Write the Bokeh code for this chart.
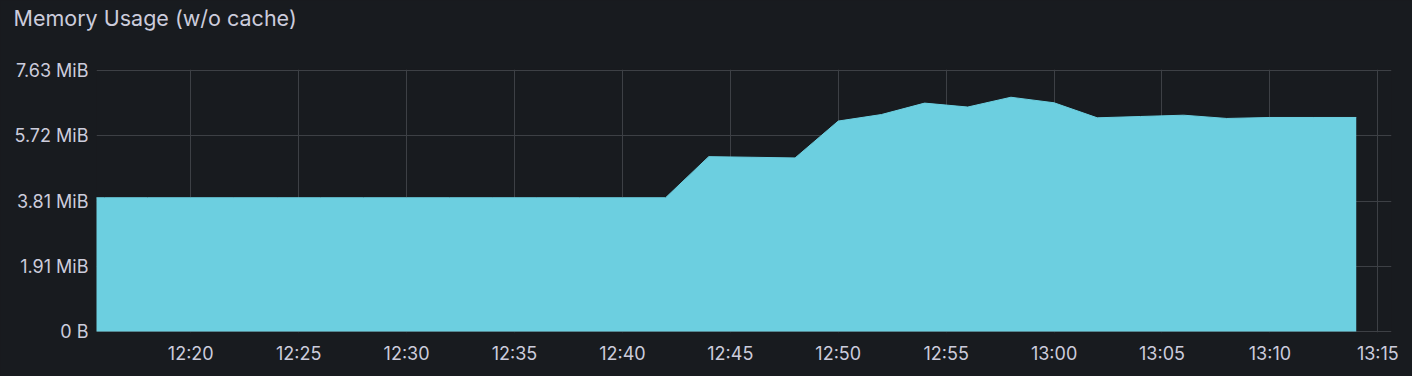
from datetime import datetime, timedelta
from bokeh.plotting import figure
from bokeh.models import Range1d, FixedTicker, DatetimeTickFormatter, Title, ColumnDataSource
from bokeh.embed import file_html
from bokeh.resources import INLINE

# ---- data ----
start = datetime(2024, 1, 1, 12, 14)
times = [start + timedelta(minutes=2 * i) for i in range(31)]
memory_bytes = [
    4.10e6, 4.10e6, 4.10e6, 4.10e6, 4.10e6, 4.10e6, 4.10e6, 4.10e6,
    4.10e6, 4.10e6, 4.10e6, 4.10e6, 4.10e6, 4.10e6, 4.10e6,
    5.36e6, 5.34e6, 5.32e6, 6.45e6, 6.65e6, 7.00e6, 6.88e6, 7.18e6,
    7.01e6, 6.55e6, 6.59e6, 6.63e6, 6.53e6, 6.56e6, 6.56e6, 6.56e6,
]
y_ticks = [0, 2000000, 4000000, 6000000, 8000000]
y_tick_labels = ["0 B", "1.91 MiB", "3.81 MiB", "5.72 MiB", "7.63 MiB"]
x_tick_times = [datetime(2024, 1, 1, 12, 20) + timedelta(minutes=5 * i) for i in range(12)]
title_text = "Memory Usage (w/o cache)"

BG = "#181b1f"
TXT = "#ccccdc"
GRID = "#3d4045"
FILL = "#6ccfe0"

def ms(d):
    return (d - datetime(1970, 1, 1)).total_seconds() * 1000.0

src = ColumnDataSource(dict(t=[ms(t) for t in times], v=memory_bytes))

x0 = ms(datetime(2024, 1, 1, 12, 15, 38))
x1 = ms(datetime(2024, 1, 1, 13, 15, 38))
pad = 30500  # half-pixel-ish padding so edge grid lines are not clipped

p = figure(width=1412, height=376, output_backend="svg", toolbar_location=None,
           x_axis_type="datetime",
           x_range=Range1d(x0, x1), y_range=Range1d(-pad, 8000000 + pad),
           min_border_left=96, min_border_right=21, min_border_top=69, min_border_bottom=44)
p.background_fill_color = BG
p.border_fill_color = BG
p.outline_line_color = None
p.styles = {"background-color": BG}

p.varea(x="t", y1=0, y2="v", source=src, fill_color=FILL, fill_alpha=1.0)
p.line(x="t", y="v", source=src, line_color=FILL, line_width=1)

p.xaxis.ticker = FixedTicker(ticks=[ms(t) for t in x_tick_times])
p.xaxis.formatter = DatetimeTickFormatter(minutes="%H:%M", hours="%H:%M", minsec="%H:%M", seconds="%H:%M")
p.yaxis.ticker = FixedTicker(ticks=y_ticks)
p.yaxis.major_label_overrides = {t: l for t, l in zip(y_ticks, y_tick_labels)}

for ax in (p.xaxis[0], p.yaxis[0]):
    ax.axis_line_color = None
    ax.major_tick_line_color = None
    ax.minor_tick_line_color = None
    ax.major_tick_out = 0
    ax.major_tick_in = 0
    ax.major_label_text_color = TXT
    ax.major_label_text_font = "Inter"
    ax.major_label_text_font_size = "18px"
p.xaxis.major_label_standoff = 10
p.yaxis.major_label_standoff = 8

p.xgrid.ticker = p.xaxis[0].ticker
p.ygrid.ticker = p.yaxis[0].ticker
p.xgrid.grid_line_color = GRID
p.ygrid.grid_line_color = GRID

# spacer between title and frame
spacer = Title(text=" ", standoff=36, text_font_size="1px", text_color=BG)
p.add_layout(spacer, "above")
t = Title(text=title_text, align="left", offset=-83, standoff=0, vertical_align="bottom",
          text_color=TXT, text_font="Inter", text_font_size="21.5px", text_font_style="normal")
p.add_layout(t, "above")

html = file_html(p, INLINE)
html = html.replace("<body>", '<body style="margin:0;background:%s">' % BG, 1)
open("out.html", "w").write(html)
